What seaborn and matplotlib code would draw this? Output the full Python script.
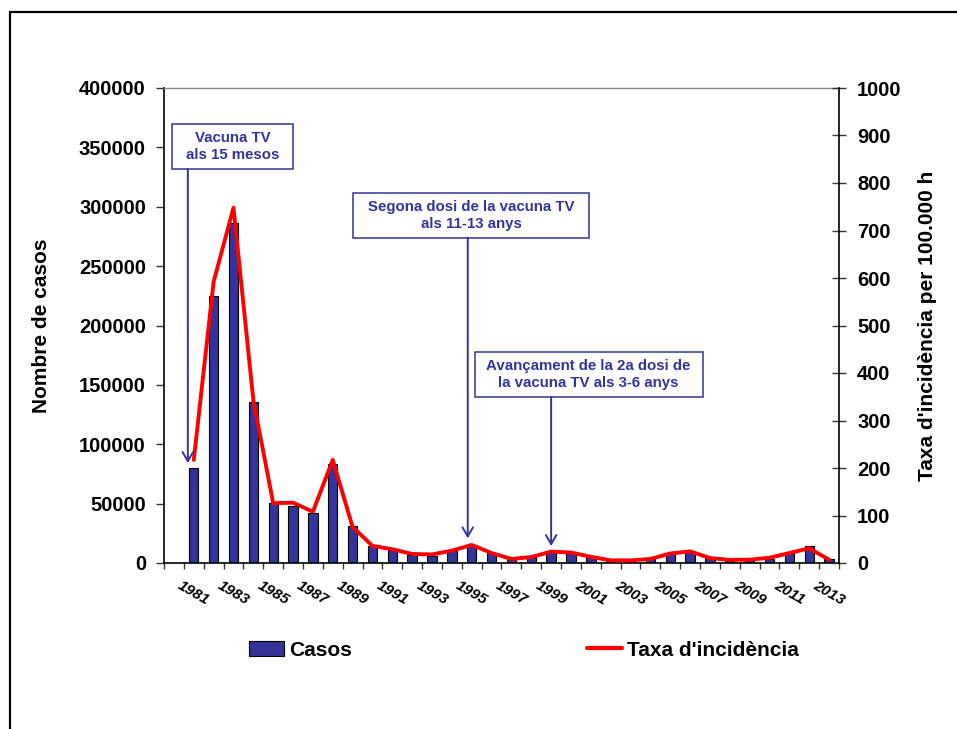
import matplotlib
matplotlib.use("Agg")
import matplotlib.pyplot as plt
from matplotlib.patches import Rectangle, Patch
from matplotlib.lines import Line2D
import numpy as np
import seaborn as sns

# Casos declarats i taxa d'incidència per 100.000 habitants, 1981-2013
anys = list(range(1981, 2014))
casos = [80000, 225000, 286000, 136000, 50800, 48000, 41800, 83000, 31200, 14000,
         10600, 6700, 6100, 9800, 14000, 8400, 3400, 5000, 9800, 8900,
         5000, 2000, 1800, 3400, 7600, 10400, 4200, 1900, 2800, 3400,
         8900, 14000, 3600]
taxa = [217, 592, 748, 343, 126, 127, 108, 217, 76, 36,
        29, 19, 18, 26, 38, 21, 8.5, 12.5, 24, 22,
        13, 5.5, 5.5, 8.5, 20, 24.5, 10.5, 6.5, 7, 11,
        21, 31, 7]
anys_etiqueta = list(range(1981, 2014, 2))

# Fites del calendari vacunal: text, caixa (x0, x1, y0, y1) i fletxa (x, y_final)
fites_text = ["Vacuna TV\nals 15 mesos",
              "Segona dosi de la vacuna TV\nals 11-13 anys",
              "Avançament de la 2a dosi de\nla vacuna TV als 3-6 anys"]
fites_caixa = [(1979.9, 1986.0, 331800, 369700),
               (1989.04, 2000.89, 273700, 311600),
               (1995.14, 2006.64, 139800, 177700)]
fites_fletxa = [(1980.7, 84200), (1994.8, 20800), (1999.0, 14300)]

BLAU = "#333399"
VERMELL = "#ff0000"
BLAU_TEXT = "#333399"

sns.set_style("white")
plt.rcParams["font.family"] = ["Liberation Sans", "DejaVu Sans"]
plt.rcParams["font.weight"] = "bold"
plt.rcParams["axes.labelweight"] = "bold"
for clau in ["text.color", "axes.labelcolor", "xtick.color", "ytick.color"]:
    plt.rcParams[clau] = "black"

fig = plt.figure(figsize=(9.57, 7.29), dpi=100)
ax = fig.add_axes([164 / 957, 1 - 563 / 729, (839 - 164) / 957, (563 - 88) / 729])

sns.barplot(x=anys, y=casos, native_scale=True, width=0.47, color=BLAU,
            saturation=1, edgecolor="black", linewidth=0.8, ax=ax, zorder=2)

ax2 = ax.twinx()
sns.lineplot(x=anys, y=taxa, ax=ax2, color=VERMELL, linewidth=2.8, zorder=3)

# Eixos
ax.set_xlim(1979.5, 2013.5)
ax.set_ylim(0, 400000)
ax2.set_ylim(0, 1000)
ax.set_yticks(np.arange(0, 400001, 50000))
ax2.set_yticks(np.arange(0, 1001, 100))
ax.set_xticks(anys_etiqueta)
ax.set_xticklabels([str(a) for a in anys_etiqueta], rotation=-30, ha="center",
                   fontsize=11, fontstyle="italic", fontweight="bold")
ax.set_xticks(np.arange(1979.5, 2014, 1), minor=True)
ax.tick_params(axis="x", which="major", length=0, pad=11)
ax.tick_params(axis="x", which="minor", direction="out", length=4, width=1,
               color="#333333", bottom=True)
ax.tick_params(axis="y", direction="out", length=6, width=1, pad=7,
               labelsize=14.5, left=True, color="#333333")
ax2.tick_params(axis="y", direction="inout", length=10, width=1, pad=8,
                labelsize=14.5, right=True, color="#333333")
for lab in ax.get_yticklabels() + ax2.get_yticklabels():
    lab.set_fontweight("bold")

ax.set_xlabel("")
ax.set_ylabel("Nombre de casos", fontsize=15, labelpad=20)
ax2.set_ylabel("Taxa d'incidència per 100.000 h", fontsize=15, labelpad=12)

for s in ["left", "bottom"]:
    ax.spines[s].set_color("black")
    ax.spines[s].set_linewidth(1.2)
ax.spines["right"].set_visible(False)
ax.spines["top"].set_color("#8a8a8a")
ax.spines["top"].set_linewidth(1)
for s in ["left", "top", "bottom"]:
    ax2.spines[s].set_visible(False)
ax2.spines["right"].set_color("black")
ax2.spines["right"].set_linewidth(1.2)
ax.grid(False)
ax2.grid(False)
ax2.set_xlim(1979.5, 2013.5)

# Caixes i fletxes de les fites
for text, (x0, x1, y0, y1), (xf, yf) in zip(fites_text, fites_caixa, fites_fletxa):
    ax2.add_patch(Rectangle((x0, y0), x1 - x0, y1 - y0, transform=ax.transData,
                            facecolor="white", edgecolor=BLAU_TEXT, linewidth=1.1,
                            zorder=5, clip_on=False))
    ax2.text((x0 + x1) / 2, (y0 + y1) / 2, text, transform=ax.transData,
             ha="center", va="center", fontsize=10.8, fontweight="bold",
             color=BLAU_TEXT, linespacing=1.3, zorder=6)
    ax2.annotate("", xy=(xf, yf), xycoords=ax.transData,
                 xytext=(xf, y0), textcoords=ax.transData,
                 arrowprops=dict(arrowstyle="->,head_length=0.65,head_width=0.38",
                                 color=BLAU_TEXT, lw=1.4, mutation_scale=10,
                                 shrinkA=0, shrinkB=0),
                 zorder=6)

# Llegenda
handles = [Patch(facecolor=BLAU, edgecolor="black", linewidth=0.8),
           Line2D([], [], color=VERMELL, linewidth=3)]
fig.legend(handles, ["Casos", "Taxa d'incidència"], ncol=2, loc="center",
           bbox_to_anchor=(524 / 957, 1 - 650 / 729), frameon=False,
           prop={"size": 15, "weight": "bold"}, handlelength=1.65,
           handleheight=0.75, handletextpad=0.25, columnspacing=11.3)

# Marc exterior
fig.patches.append(Rectangle((10 / 957, -0.05), 1.2, 1 - 12 / 729 + 0.05,
                             transform=fig.transFigure, fill=False,
                             edgecolor="black", linewidth=1.6, zorder=0))

fig.savefig("out.png", dpi=100)
